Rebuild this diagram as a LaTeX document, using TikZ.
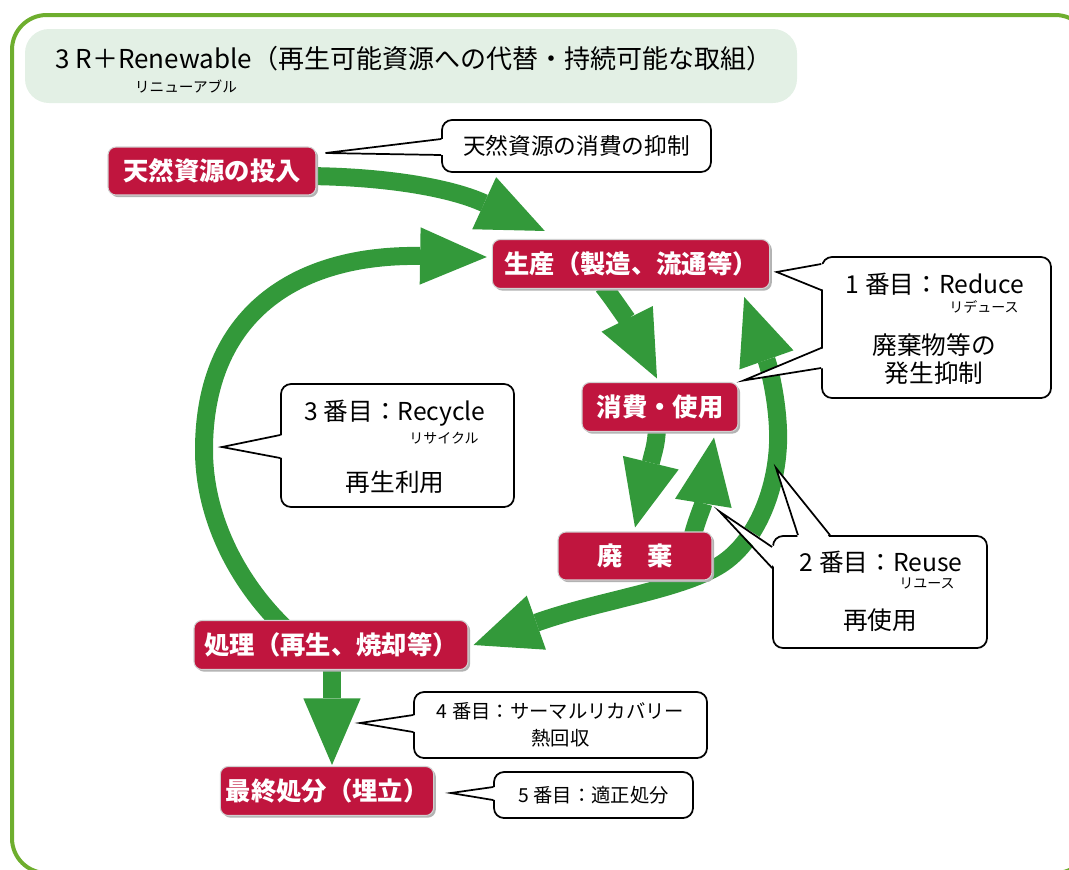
\documentclass[tikz,border=0pt]{standalone}
\usepackage{fontspec}
\setmainfont{Noto Sans CJK JP}
\usepackage{tikz}
\usetikzlibrary{arrows.meta, shadows, calc}
\pgfdeclarelayer{bg}
\pgfsetlayers{bg,main}
\definecolor{framegreen}{RGB}{110,174,46}
\definecolor{titlefill}{RGB}{227,240,229}
\definecolor{flowgreen}{RGB}{51,153,58}
\definecolor{stepred}{RGB}{192,21,62}

\begin{document}
\begin{tikzpicture}[
  x=0.75pt, y=-0.75pt,
  >={Triangle[length=50pt, width=43pt, line width=0pt]},
  stepbox/.style={fill=stepred, draw=white!82!black, line width=0.8pt, rounded corners=6pt,
    text=white, inner sep=0pt, font=\fontsize{19}{19}\selectfont\bfseries,
    drop shadow={shadow xshift=1.6pt, shadow yshift=-1.6pt, fill=black!30, opacity=1}},
  callbox/.style={draw=black, fill=white, line width=1.3pt, rounded corners=7.5pt, inner sep=0pt},
  callline/.style={draw=black, line width=1.3pt, line join=miter},
  calltext/.style={inner sep=0pt, font=\fontsize{18.5}{21}\selectfont},
  smalltext/.style={inner sep=0pt, font=\fontsize{14.5}{20}\selectfont},
  rubytext/.style={inner sep=0pt, font=\fontsize{10.5}{11}\selectfont},
  flow/.style={draw=flowgreen, line width=13.5pt},
]
\useasboundingbox (0,0) rectangle (1069,869);

% title
\node[anchor=west, inner sep=0pt, font=\fontsize{19.5}{20}\selectfont] (title) at (55,59)
  {3 R＋Renewable（再生可能資源への代替・持続可能な取組）};
\node[rubytext, font=\fontsize{11}{12}\selectfont] (titleRuby) at (186,87) {リニューアブル};

% steps of the cycle
\node[stepbox, minimum width=156pt, minimum height=36pt] (input) at (212,171) {天然資源の投入};
\node[stepbox, minimum width=208pt, minimum height=36.75pt] (prod) at (631,264) {生産（製造、流通等）};
\node[stepbox, minimum width=117pt, minimum height=36.75pt] (use) at (660,407) {消費・使用};
\node[stepbox, minimum width=115.5pt, minimum height=36pt] (waste) at (635,556) {廃　棄};
\node[stepbox, minimum width=205.5pt, minimum height=36.75pt] (treat) at (331,645) {処理（再生、焼却等）};
\node[stepbox, minimum width=160pt, minimum height=36.75pt] (final) at (327,791) {最終処分（埋立）};

% callout boxes
\node[callbox, font=\fontsize{17}{17}\selectfont, minimum width=201.75pt, minimum height=39pt] (cIn) at (576.5,146) {天然資源の消費の抑制};
\node[callbox, minimum width=171.75pt, minimum height=105.75pt] (cRed) at (936.5,327.5) {};
\node[callbox, minimum width=174.75pt, minimum height=92.25pt] (cRec) at (397.5,445.5) {};
\node[callbox, minimum width=160.5pt, minimum height=84pt] (cReu) at (880,592) {};
\node[callbox, smalltext, align=center, minimum width=219.75pt, minimum height=49.5pt] (cThe) at (560.5,725) {4 番目：サーマルリカバリー\\熱回収};
\node[callbox, smalltext, minimum width=149.25pt, minimum height=34.5pt] (cFin) at (593.5,795) {5 番目：適正処分};

% texts in the larger callouts
\node[calltext] (tRed) at (935,284) {1 番目：Reduce};
\node[rubytext] (rRed) at (984,307) {リデュース};
\node[calltext, align=center] (dRed) at (934,359) {廃棄物等の\\発生抑制};
\node[calltext] (tRec) at (395,413) {3 番目：Recycle};
\node[rubytext] (rRec) at (444,438) {リサイクル};
\node[calltext] (dRec) at (395,482) {再生利用};
\node[calltext] (tReu) at (881,562) {2 番目：Reuse};
\node[rubytext] (rReu) at (927,583) {リユース};
\node[calltext] (dReu) at (880,620) {再使用};

% pointers of the callouts
\coordinate (recArc) at (222,447);
\coordinate (reuArc) at (776,468);
\coordinate (thermArr) at (360,723);

\fill[white] ($(cIn.west)+(3,-7)$) -- ($(input.east)+(9,-18)$) -- ($(cIn.west)+(3,9)$) -- cycle;
\draw[callline] ($(cIn.west)+(0,-7)$) -- ($(input.east)+(9,-18)$) -- ($(cIn.west)+(0,9)$);

\fill[white] ($(cRed.west)+(3,-63.5)$) -- ($(prod.east)+(6.5,8)$) -- ($(cRed.west)+(3,-37.5)$) -- cycle;
\draw[callline] ($(cRed.west)+(0,-63.5)$) -- ($(prod.east)+(6.5,8)$) -- ($(cRed.west)+(0,-37.5)$);
\fill[white] ($(cRed.west)+(3,20.5)$) -- ($(use.north east)+(5,-1.5)$) -- ($(cRed.west)+(3,40.5)$) -- cycle;
\draw[callline] ($(cRed.west)+(0,20.5)$) -- ($(use.north east)+(5,-1.5)$) -- ($(cRed.west)+(0,40.5)$);

\fill[white] ($(cRec.west)+(3,-10.5)$) -- (recArc) -- ($(cRec.west)+(3,12.5)$) -- cycle;
\draw[callline] ($(cRec.west)+(0,-10.5)$) -- (recArc) -- ($(cRec.west)+(0,12.5)$);

\fill[white] ($(cReu.north)+(-82,3)$) -- (reuArc) -- ($(cReu.north)+(-50,3)$) -- cycle;
\draw[callline] ($(cReu.north)+(-82,0)$) -- (reuArc) -- ($(cReu.north)+(-50,0)$);
\fill[white] ($(cReu.west)+(3,-45)$) -- ($(waste.north east)+(7,-20)$) -- ($(cReu.west)+(3,-24)$) -- cycle;
\draw[callline] ($(cReu.west)+(0,-45)$) -- ($(waste.north east)+(7,-20)$) -- ($(cReu.west)+(0,-24)$);

\fill[white] ($(cThe.west)+(3,-10)$) -- (thermArr) -- ($(cThe.west)+(3,7)$) -- cycle;
\draw[callline] ($(cThe.west)+(0,-10)$) -- (thermArr) -- ($(cThe.west)+(0,7)$);

\fill[white] ($(cFin.west)+(3,-8)$) -- ($(final.east)+(16.5,2)$) -- ($(cFin.west)+(3,5)$) -- cycle;
\draw[callline] ($(cFin.west)+(0,-8)$) -- ($(final.east)+(16.5,2)$) -- ($(cFin.west)+(0,5)$);

% frame, title band and the green flows behind the boxes
\begin{pgfonlayer}{bg}
\draw[framegreen, line width=3pt, rounded corners=26pt] (12,15) rectangle (1090,873);
\fill[titlefill, rounded corners=18pt] (25,29) rectangle (797,103);

\draw[flow, ->] ($(input.east)+(-16,5)$) .. controls +(80,0) and +(-96,-44) .. ($(prod.north west)+(53,-8)$);
\draw[flow, ->] ($(treat.north)+(-46,8)$) .. controls (240,585) and (204,520) .. (204,450)
  .. controls (204,315) and (295,254) .. ($(prod.west)+(-5,-7)$);
\draw[flow, ->] ($(prod.south)+(-28,-3)$) .. controls +(12,15) and +(-27,-54) .. ($(use.north)+(-3,-3.5)$);
\draw[flow, ->] ($(use.south)+(-3,-3.5)$) .. controls +(-1,17) and +(19,-78) .. ($(waste.north)+(0,-4)$);
\draw[flow, ->] ($(waste.north)+(58,3)$) .. controls +(4,-15) and +(-11,68) .. ($(use.south)+(54,5.5)$);
\draw[flow, <->] ($(treat.east)+(5,0)$) .. controls (600,600) and (680,590) .. (720,565)
  .. controls (760,540) and (780,480) .. (778,430)
  .. controls (777,400) and (770,370) .. ($(prod.south east)+(-26,8)$);
\draw[flow, ->] ($(treat.south)+(1,-4)$) -- ($(final.north)+(5,-1)$);
\end{pgfonlayer}
\end{tikzpicture}
\end{document}
